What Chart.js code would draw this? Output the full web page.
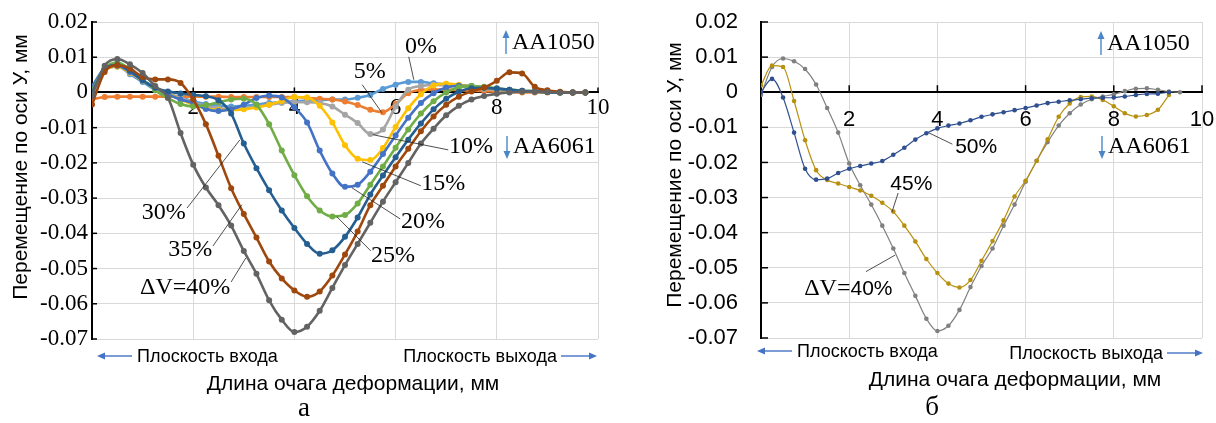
<!DOCTYPE html>
<html>
<head>
<meta charset="utf-8">
<script src="https://cdn.jsdelivr.net/npm/chart.js@4.4.1/dist/chart.umd.min.js"></script>
<style>
  body { margin: 0; background: #fff; width: 1216px; height: 423px; position: relative; overflow: hidden; }
  canvas { position: absolute; top: 0; }
  #left { left: 0; }
  #right { left: 610px; }
</style>
</head>
<body>
<canvas id="left" width="610" height="423" style="width:610px;height:423px"></canvas>
<canvas id="right" width="606" height="423" style="width:606px;height:423px"></canvas>
<script>
const SERIF = "'Liberation Serif', 'Times New Roman', serif";
const SANS = "'Liberation Sans', Arial, sans-serif";

// координата вдоль очага деформации, мм
const xs = [0, 0.25, 0.5, 0.75, 1, 1.25, 1.5, 1.75, 2, 2.25, 2.5, 2.75, 3, 3.25, 3.5, 3.75,
            4, 4.25, 4.5, 4.75, 5, 5.25, 5.5, 5.75, 6, 6.25, 6.5, 6.75, 7, 7.25, 7.5, 7.75,
            8, 8.25, 8.5, 8.75, 9, 9.25, 9.5, 9.75];
const xTicks = [0, 2, 4, 6, 8, 10];
const yTicks = [0.02, 0.01, 0, -0.01, -0.02, -0.03, -0.04, -0.05, -0.06, -0.07];

// панель а: перемещение по оси У, мм
const leftNames = ['0%', '5%', '10%', '15%', '20%', '25%', '30%', '35%', '40%'];
const v0 = [0.0017, 0.0068, 0.0075, 0.0052, 0.003, 0.0008, -0.0005, -0.0014, -0.0025, -0.0033, -0.0038, -0.004,
  -0.0038, -0.0034, -0.003, -0.0027, -0.0025, -0.0023, -0.0022, -0.002, -0.002, -0.0015, -0.0007, 0.001,
  0.0022, 0.003, 0.003, 0.0026, 0.0023, 0.002, 0.0015, 0.0011, 0.0008, 0.0005, 0.0003, 0.0002, 0.0001, 0, 0, 0];
const v5 = [-0.002, -0.0013, -0.0012, -0.0012, -0.0012, -0.0012, -0.0012, -0.0012, -0.0012, -0.0012, -0.0012, -0.0013,
  -0.0013, -0.0013, -0.0013, -0.0013, -0.0013, -0.0015, -0.0018, -0.002, -0.0026, -0.0036, -0.0049, -0.0056,
  -0.0033, -0.0002, 0.0007, 0.0008, 0.0008, 0.0007, 0.0005, 0.0004, 0.0002, 0.0001, 0, 0, 0, 0, 0, 0];
const v10 = [0.0012, 0.0065, 0.0073, 0.0055, 0.0033, 0.0012, -0.0003, -0.0015, -0.0028, -0.0038, -0.0045, -0.0047,
  -0.0045, -0.004, -0.0035, -0.003, -0.0028, -0.0028, -0.003, -0.004, -0.0063, -0.0087, -0.0118, -0.0105,
  -0.004, 0.0008, 0.0018, 0.0021, 0.002, 0.0017, 0.0013, 0.001, 0.0007, 0.0005, 0.0003, 0.0002, 0.0001, 0, 0, 0];
const v15 = [0.001, 0.0063, 0.0074, 0.0056, 0.0034, 0.0013, -0.0003, -0.002, -0.0035, -0.0045, -0.005, -0.005,
  -0.0048, -0.0043, -0.0035, -0.0024, -0.0013, -0.0014, -0.0038, -0.0085, -0.015, -0.0188, -0.0192, -0.0158,
  -0.0098, -0.0045, -0.0005, 0.002, 0.0025, 0.0022, 0.0018, 0.0013, 0.0009, 0.0006, 0.0003, 0.0002, 0.0001, 0, 0, 0];
const v20 = [0.0015, 0.0066, 0.0076, 0.0058, 0.0035, 0.0014, -0.0005, -0.002, -0.003, -0.0047, -0.0053, -0.0048,
  -0.0035, -0.0016, -0.0009, -0.0014, -0.0042, -0.0085, -0.0165, -0.023, -0.0268, -0.0262, -0.0225, -0.0175,
  -0.0122, -0.0072, -0.003, -0.0002, 0.0014, 0.0019, 0.0018, 0.0014, 0.001, 0.0007, 0.0004, 0.0002, 0.0001, 0, 0, 0];
const v25 = [0.0005, 0.0068, 0.0085, 0.0065, 0.0037, 0.0006, -0.0016, -0.0033, -0.004, -0.0036, -0.0028, -0.002,
  -0.0018, -0.0035, -0.009, -0.0165, -0.0235, -0.0295, -0.0335, -0.0352, -0.0348, -0.0315, -0.0262, -0.021,
  -0.0157, -0.0105, -0.006, -0.0025, 0, 0.0015, 0.0018, 0.0016, 0.0012, 0.0008, 0.0005, 0.0003, 0.0001, 0, 0, 0];
const v30 = [0, 0.0065, 0.0078, 0.0062, 0.0034, 0.0013, 0.0003, -0.0003, -0.0007, -0.0011, -0.0022, -0.006,
  -0.0145, -0.0215, -0.0278, -0.0335, -0.0385, -0.043, -0.0458, -0.0448, -0.041, -0.0355, -0.029, -0.0236,
  -0.0184, -0.0134, -0.0088, -0.0048, -0.0018, 0.0002, 0.0012, 0.0013, 0.0011, 0.0008, 0.0005, 0.0003, 0.0001, 0, 0, 0];
const v35 = [-0.0034, 0.0058, 0.0077, 0.0068, 0.0044, 0.0037, 0.0037, 0.0027, -0.002, -0.009, -0.018, -0.0272,
  -0.0345, -0.0412, -0.048, -0.0528, -0.0562, -0.058, -0.0565, -0.052, -0.046, -0.0395, -0.032, -0.0265,
  -0.021, -0.016, -0.011, -0.0068, -0.0035, -0.0012, 0.0003, 0.0014, 0.0033, 0.0057, 0.0054, 0.0016, 0.0006, 0.0002, 0, 0];
const v40 = [-0.001, 0.0076, 0.0095, 0.008, 0.0055, 0.0018, -0.0015, -0.0115, -0.0205, -0.027, -0.032, -0.0378,
  -0.045, -0.0515, -0.059, -0.0645, -0.068, -0.0665, -0.062, -0.0555, -0.049, -0.043, -0.037, -0.031,
  -0.0255, -0.02, -0.0145, -0.0103, -0.0065, -0.0038, -0.002, -0.001, -0.0004, 0, 0.0002, 0.0002, 0.0001, 0, 0, 0];
const leftValues = [v0, v5, v10, v15, v20, v25, v30, v35, v40];
const leftColors = ['#5B9BD5', '#ED7D31', '#A5A5A5', '#FFC000', '#4472C4', '#70AD47', '#255E91', '#9E480E', '#636363'];

// панель б
const rightNames = ['40%', '45%', '50%'];
const r40 = [-0.0008, 0.0072, 0.0096, 0.0088, 0.0066, 0.0022, -0.0045, -0.0115, -0.0203, -0.0265, -0.032, -0.038,
  -0.0445, -0.0515, -0.058, -0.0645, -0.068, -0.0665, -0.062, -0.0555, -0.0495, -0.0445, -0.038, -0.032,
  -0.0255, -0.0195, -0.0142, -0.0095, -0.006, -0.0035, -0.002, -0.0012, -0.0006, 0.0003, 0.001, 0.0011, 0.0007, 0.0002, 0];
const r45 = [0.0019, 0.0076, 0.0072, -0.0025, -0.0137, -0.0222, -0.025, -0.026, -0.027, -0.028, -0.0295, -0.0315,
  -0.034, -0.038, -0.0425, -0.0475, -0.0515, -0.0545, -0.0556, -0.0535, -0.048, -0.0424, -0.0365, -0.0297,
  -0.0252, -0.0196, -0.0134, -0.007, -0.0032, -0.0014, -0.0012, -0.0022, -0.004, -0.006, -0.0069, -0.0065, -0.005, -0.0008];
const r50 = [0, 0.0038, -0.0015, -0.0115, -0.0218, -0.0249, -0.0246, -0.023, -0.0218, -0.021, -0.0203, -0.0196,
  -0.0178, -0.0158, -0.0135, -0.0117, -0.0103, -0.0095, -0.0089, -0.008, -0.007, -0.0063, -0.0057, -0.0051,
  -0.0045, -0.0038, -0.0031, -0.0027, -0.0023, -0.002, -0.0017, -0.0016, -0.0015, -0.0012, -0.0008, -0.0005, -0.0004, 0];
const rightValues = [r40, r45, r50];
const rightColors = ['#808080', '#B8900F', '#2F4F8F'];

function points(ys) {
  return ys.map((y, i) => ({ x: xs[i], y: y }));
}

function arrow(ctx, x1, y1, x2, y2, color) {
  const a = Math.atan2(y2 - y1, x2 - x1);
  ctx.strokeStyle = color; ctx.fillStyle = color; ctx.lineWidth = 1.4;
  ctx.beginPath(); ctx.moveTo(x1, y1);
  ctx.lineTo(x2 - 5 * Math.cos(a), y2 - 5 * Math.sin(a)); ctx.stroke();
  ctx.beginPath();
  ctx.moveTo(x2, y2);
  ctx.lineTo(x2 - 8 * Math.cos(a) + 3.5 * Math.sin(a), y2 - 8 * Math.sin(a) - 3.5 * Math.cos(a));
  ctx.lineTo(x2 - 8 * Math.cos(a) - 3.5 * Math.sin(a), y2 - 8 * Math.sin(a) + 3.5 * Math.cos(a));
  ctx.closePath(); ctx.fill();
}

function text(ctx, s, x, y, font, align) {
  ctx.font = font; ctx.fillStyle = '#000';
  ctx.textAlign = align || 'center'; ctx.textBaseline = 'middle';
  ctx.fillText(s, x, y);
}

// text made of several runs with different fonts, centred on (x, y)
function runs(ctx, parts, x, y) {
  let w = 0;
  parts.forEach(p => { ctx.font = p[1]; w += ctx.measureText(p[0]).width; });
  let cx = x - w / 2;
  parts.forEach(p => {
    ctx.font = p[1]; ctx.fillStyle = '#000'; ctx.textAlign = 'left'; ctx.textBaseline = 'middle';
    ctx.fillText(p[0], cx, y);
    cx += ctx.measureText(p[0]).width;
  });
}

function decorPlugin(cfg) {
  return {
    id: 'decor',
    beforeDatasetsDraw(chart) {
      const { ctx, chartArea, scales: { x, y } } = chart;
      const y0 = y.getPixelForValue(0);
      ctx.save();
      ctx.strokeStyle = '#000'; ctx.lineWidth = 1.5;
      xTicks.forEach(v => {
        if (v === 0) return;
        const px = x.getPixelForValue(v);
        ctx.beginPath(); ctx.moveTo(px, y0); ctx.lineTo(px, y0 - cfg.tick); ctx.stroke();
      });
      yTicks.forEach(v => {
        const py = y.getPixelForValue(v);
        ctx.beginPath(); ctx.moveTo(chartArea.left, py); ctx.lineTo(chartArea.left + cfg.tick, py); ctx.stroke();
      });
      ctx.restore();
    },
    afterDraw(chart) {
      const { ctx, scales: { x, y } } = chart;
      const px = p => [x.getPixelForValue(p[0]), y.getPixelForValue(p[1])];
      ctx.save();
      // подписи кривых с выносками
      cfg.notes.forEach(n => {
        const a = px(n.from), b = px(n.to), c = px(n.at);
        ctx.strokeStyle = '#222'; ctx.lineWidth = 0.8;
        ctx.beginPath(); ctx.moveTo(a[0], a[1]); ctx.lineTo(b[0], b[1]); ctx.stroke();
        runs(ctx, n.parts, c[0], c[1]);
      });
      // материалы
      arrow(ctx, cfg.up[0], cfg.up[1] + 11, cfg.up[0], cfg.up[1] - 13, '#4A86C8');
      text(ctx, 'AA1050', cfg.up[0] + 6, cfg.up[1], '24px ' + SERIF, 'left');
      arrow(ctx, cfg.down[0], cfg.down[1] - 11, cfg.down[0], cfg.down[1] + 12, '#4A86C8');
      text(ctx, 'AA6061', cfg.down[0] + 6, cfg.down[1], '24px ' + SERIF, 'left');
      // оси
      ctx.save();
      ctx.translate(cfg.yTitle[0], cfg.yTitle[1]); ctx.rotate(-Math.PI / 2);
      text(ctx, 'Перемещение по оси У, мм', 0, 0, '21px ' + SANS);
      ctx.restore();
      text(ctx, 'Длина очага деформации, мм', cfg.xTitle[0], cfg.xTitle[1], '21px ' + SANS);
      const e = cfg.entry, o = cfg.exit;
      arrow(ctx, e[0] + 35, e[1], e[0], e[1], '#4472C4');
      text(ctx, 'Плоскость входа', e[0] + 40, e[1] + 1, '18px ' + SANS, 'left');
      arrow(ctx, o[0] - 36, o[1], o[0], o[1], '#4472C4');
      text(ctx, 'Плоскость выхода', o[0] - 40, o[1] + 1, '18px ' + SANS, 'right');
      text(ctx, cfg.letter, cfg.letterAt[0], cfg.letterAt[1], '27px ' + SERIF);
      ctx.restore();
    }
  };
}

function yLabel(v) {
  const r = Math.round(v * 100) / 100;
  return r === 0 ? '0' : r.toFixed(2);
}

function makeChart(id, names, values, colors, look) {
  const datasets = values.map((ys, i) => ({
    label: names[i],
    data: points(ys),
    borderColor: colors[i],
    backgroundColor: colors[i],
    borderWidth: look.lineWidth,
    pointRadius: look.pointRadius,
    pointBorderWidth: 0,
    pointBackgroundColor: colors[i],
    cubicInterpolationMode: 'monotone',
    order: values.length - i
  }));
  return new Chart(document.getElementById(id), {
    type: 'line',
    data: { datasets },
    options: {
      responsive: false,
      animation: false,
      layout: { padding: look.padding },
      plugins: { legend: { display: false }, tooltip: { enabled: false } },
      scales: {
        x: {
          type: 'linear', min: 0, max: 10,
          position: { y: 0 },
          afterBuildTicks: s => { s.ticks = xTicks.map(v => ({ value: v })); },
          afterFit: s => { s.paddingLeft = 0; s.paddingRight = 0; },
          ticks: {
            autoSkip: false, maxRotation: 0, color: '#000', padding: look.xPad,
            font: { family: look.tickFamily, size: look.tickSize },
            callback: v => v === 0 ? '' : String(v)
          },
          grid: { color: '#D9D9D9', lineWidth: 1, drawTicks: false },
          border: { color: '#000', width: 2 }
        },
        y: {
          type: 'linear', min: -0.07, max: 0.02,
          afterBuildTicks: s => { s.ticks = yTicks.map(v => ({ value: v })); },
          afterFit: s => { s.width = look.axisWidth; s.paddingTop = 0; s.paddingBottom = 0; },
          ticks: {
            autoSkip: false, color: '#000', padding: look.yPad,
            font: { family: look.tickFamily, size: look.tickSize },
            callback: yLabel
          },
          grid: { color: '#D9D9D9', lineWidth: 1, drawTicks: false },
          border: { color: '#000', width: 2 }
        }
      }
    },
    plugins: [decorPlugin(look.decor)]
  });
}

const serif24 = '24px ' + SERIF, sans21 = '21px ' + SANS;

makeChart('left', leftNames, leftValues, leftColors, {
  lineWidth: 2.6, pointRadius: 3,
  padding: { left: 0, top: 22, right: 12, bottom: 84 },
  axisWidth: 92, xPad: 2, yPad: 4, tickFamily: SERIF, tickSize: 23,
  decor: {
    tick: 5,
    notes: [
      { parts: [['0%', serif24]], at: [6.5, 0.013], from: [6.26, 0.0101], to: [6.36, 0.0036] },
      { parts: [['5%', serif24]], at: [5.49, 0.0059], from: [5.34, 0.0022], to: [5.73, -0.0058] },
      { parts: [['10%', serif24]], at: [7.49, -0.0155], from: [7.04, -0.0163], to: [5.55, -0.012] },
      { parts: [['15%', serif24]], at: [6.94, -0.026], from: [6.5, -0.0265], to: [5.34, -0.0197] },
      { parts: [['20%', serif24]], at: [6.54, -0.0368], from: [6.09, -0.0359], to: [5.14, -0.0271] },
      { parts: [['25%', serif24]], at: [5.95, -0.0464], from: [5.51, -0.045], to: [4.84, -0.0353] },
      { parts: [['30%', serif24]], at: [1.42, -0.0342], from: [1.88, -0.0328], to: [2.92, -0.0135] },
      { parts: [['35%', serif24]], at: [1.94, -0.0447], from: [2.39, -0.0436], to: [2.96, -0.0319] },
      { parts: [['ΔV=40%', serif24]], at: [1.84, -0.0555], from: [2.75, -0.0538], to: [3.04, -0.047] }
    ],
    up: [506, 43], down: [507, 147],
    yTitle: [21, 167], xTitle: [353, 384],
    entry: [97, 356], exit: [597, 356],
    letter: 'а', letterAt: [304, 409]
  }
});

makeChart('right', rightNames, rightValues, rightColors, {
  lineWidth: 1.2, pointRadius: 2.3,
  padding: { left: 0, top: 22, right: 14, bottom: 85 },
  axisWidth: 151, xPad: 15, yPad: 23, tickFamily: SANS, tickSize: 22,
  decor: {
    tick: 7,
    notes: [
      { parts: [['50%', sans21]], at: [4.88, -0.0156], from: [4.34, -0.0148], to: [3.81, -0.0116] },
      { parts: [['45%', sans21]], at: [3.41, -0.0262], from: [3.11, -0.0287], to: [2.97, -0.0341] },
      { parts: [['ΔV=', serif24], ['40%', sans21]], at: [1.98, -0.056], from: [2.38, -0.0511], to: [3.04, -0.0464] }
    ],
    up: [491, 44], down: [492, 147],
    yTitle: [65, 175], xTitle: [405, 380],
    entry: [147, 351], exit: [593, 353],
    letter: 'б', letterAt: [322, 408]
  }
});
</script>
</body>
</html>
